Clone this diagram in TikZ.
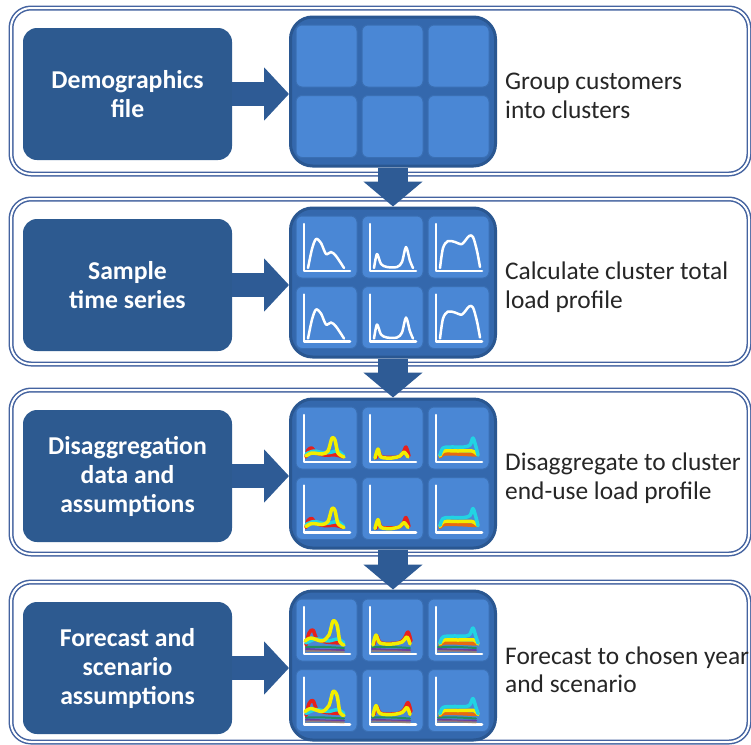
\documentclass[tikz,border=0pt]{standalone}
\usepackage{fontspec}
\setmainfont{Carlito}
\usetikzlibrary{arrows.meta}
\definecolor{inputblue}{HTML}{2D5A90}
\definecolor{gridblue}{HTML}{3468AD}
\definecolor{gridedge}{HTML}{2A5791}
\definecolor{cellblue}{HTML}{4A87D5}
\definecolor{flowblue}{HTML}{2E5B95}
\definecolor{frameblue}{HTML}{4463A0}
\definecolor{notegray}{HTML}{262626}
\definecolor{tracered}{HTML}{E8201C}
\definecolor{traceyellow}{HTML}{F2EE00}
\definecolor{tracecyan}{HTML}{22D3E3}
\definecolor{traceorange}{HTML}{E86A10}

\begin{document}
\begin{tikzpicture}[x=1pt, y=-1pt, line join=round, line cap=round,
	stageframe/.style={draw=frameblue, line width=1.5, double=white, double distance=2, rounded corners=20},
	inputbox/.style={fill=inputblue, rounded corners=14, minimum width=209, minimum height=132, inner sep=0, align=center, text=white, font=\bfseries\fontsize{25.7}{29}\selectfont},
	gridbox/.style={fill=gridblue, draw=gridedge, line width=3, rounded corners=22, minimum width=205, minimum height=149},
	cellbox/.style={fill=cellblue, draw=gridedge!50!cellblue, line width=1, rounded corners=6, minimum width=61, minimum height=62, inner sep=0, outer sep=0},
	note/.style={anchor=west, inner sep=0, align=left, text=notegray, font=\fontsize{25.4}{28.5}\selectfont},
	feed/.style={draw=flowblue, line width=24, line cap=butt, -{Triangle[length=25pt, width=52pt]}},
	flow/.style={draw=flowblue, line width=30, line cap=butt, -{Triangle[length=25pt, width=58pt]}},
	axis/.style={draw=white, line width=2.5},
	trace/.style={draw=#1, line width=3.5},
	trace/.default=white,
	faint/.style={draw=#1, line width=2, opacity=.55}]
	\fill[white] (0,0) rectangle (751,744);
	\useasboundingbox (0,0) rectangle (751,744);
	
	% four stages: frame, source box, 3x2 cluster grid, task text
	\foreach \t/\h/\src/\task [count=\r] in {
		8/166/{Demographics\\file}/{Group customers\\into clusters},
		199/165/{Sample\\time series}/{Calculate cluster total\\load profile},
		390/164/{Disaggregation\\data and\\assumptions}/{Disaggregate to cluster\\end-use load profile},
		582/160/{Forecast and\\scenario\\assumptions}/{Forecast to chosen year\\and scenario}}{
		\draw[stageframe] (11,\t) rectangle (749,\t+\h);
		\node[inputbox] (src\r) at (127.5,\t+86) {\src};
		\node[gridbox] (grid\r) at (393,\t+83.5) {};
		\foreach \i/\x in {1/326.5, 2/392.5, 3/458.5}
			\foreach \j/\y in {1/48, 2/118.5}
				\node[cellbox] (cell\r-\i-\j) at (\x,\t+\y) {};
		\node[note] (task\r) at (505,\t+88) {\task};
	}
	
	\foreach \r in {1,...,4}
		\draw[feed] (src\r.east) -- (src\r.east -| grid\r.west);
	\foreach \r [evaluate=\r as \n using int(\r+1)] in {1,2,3}
		\draw[flow] (grid\r.south) -- (grid\n.north);
	
	% load profiles, in cell coordinates (origin at the top left corner)
	\def\axes{(8,8) -- (8,55) -- (54,55)}
	\def\humpA{plot[smooth] coordinates {(12,52) (16,33) (20,23) (25,27) (30,38) (35,36) (40,40) (48,52)}}
	\def\humpB{plot[smooth] coordinates {(12,52) (15,38) (19,48) (25,51) (35,51) (40,46) (44,31) (48,45) (51,52)}}
	\def\humpC{plot[smooth] coordinates {(12,52) (15,32) (20,25) (27,26) (34,28) (41,20) (45,21) (49,35) (52,51)}}
	
	\def\mixA{
		\draw[trace=tracered] plot[smooth] coordinates {(10,50) (12,43) (16,41) (20,46) (28,48) (40,48) (47,50)};
		\draw[trace=tracecyan] plot[smooth] coordinates {(10,47) (18,44) (28,46) (36,45) (42,44) (48,49)};
		\draw[trace=traceyellow] plot[smooth] coordinates {(10,49) (16,46) (26,47) (32,44) (36,31) (39,33) (42,46) (48,50)};}
	\def\mixB{
		\draw[trace=tracered] plot[smooth] coordinates {(14,51) (17,45) (20,50) (36,50) (41,46) (44,40) (47,49)};
		\draw[trace=traceyellow] plot[smooth] coordinates {(13,51) (16,42) (19,50) (30,51) (38,49) (42,45) (46,50)};}
	\def\mixC{
		\draw[trace=traceorange] plot[smooth] coordinates {(12,50) (16,47) (30,47) (48,48)};
		\draw[trace=traceyellow] plot[smooth] coordinates {(12,49) (16,44) (30,44) (44,44) (50,48)};
		\draw[trace=tracecyan] plot[smooth] coordinates {(12,48) (15,41) (22,40) (36,40) (42,38) (45,31) (48,40) (50,48)};}
	
	\def\under{
		\draw[faint=green!60!black] plot[smooth] coordinates {(10,48) (30,48) (48,49)};
		\draw[faint=violet] plot[smooth] coordinates {(10,50) (30,51) (48,51)};
		\draw[faint=brown] plot[smooth] coordinates {(10,52) (30,52) (48,53)};}
	\def\endA{\under
		\draw[trace=tracered] plot[smooth] coordinates {(10,46) (13,34) (17,31) (21,40) (30,43) (46,44)};
		\draw[trace=tracecyan] plot[smooth] coordinates {(10,44) (20,40) (32,42) (42,40) (48,44)};
		\draw[trace=traceyellow] plot[smooth] coordinates {(9,42) (15,39) (26,42) (33,36) (37,22) (41,26) (44,43) (48,46)};}
	\def\endB{\under
		\draw[trace=tracered] plot[smooth] coordinates {(12,45) (15,37) (19,44) (36,44) (42,40) (46,33) (49,42)};
		\draw[trace=traceyellow] plot[smooth] coordinates {(11,46) (14,36) (18,44) (30,45) (40,43) (45,38) (48,45)};}
	\def\endC{\under
		\draw[trace=traceorange] plot[smooth] coordinates {(12,46) (16,44) (30,44) (48,45)};
		\draw[trace=traceyellow] plot[smooth] coordinates {(12,45) (16,41) (30,41) (46,41) (50,45)};
		\draw[trace=tracecyan] plot[smooth] coordinates {(12,44) (15,38) (24,37) (38,37) (42,35) (45,29) (48,38) (50,44)};}
	
	\foreach \r in {2,3,4}
		\foreach \i in {1,2,3}
			\foreach \j in {1,2}
				\draw[axis, shift={(cell\r-\i-\j.north west)}] \axes;
	\foreach \i/\pro in {1/\humpA, 2/\humpB, 3/\humpC}
		\foreach \j in {1,2}
			\draw[trace, line width=2.5, shift={(cell2-\i-\j.north west)}] \pro;
	\foreach \r/\i/\mix in {3/1/\mixA, 3/2/\mixB, 3/3/\mixC, 4/1/\endA, 4/2/\endB, 4/3/\endC}
		\foreach \j in {1,2}{
			\begin{scope}[shift={(cell\r-\i-\j.north west)}]
				\mix
			\end{scope}
		}
\end{tikzpicture}
\end{document}
